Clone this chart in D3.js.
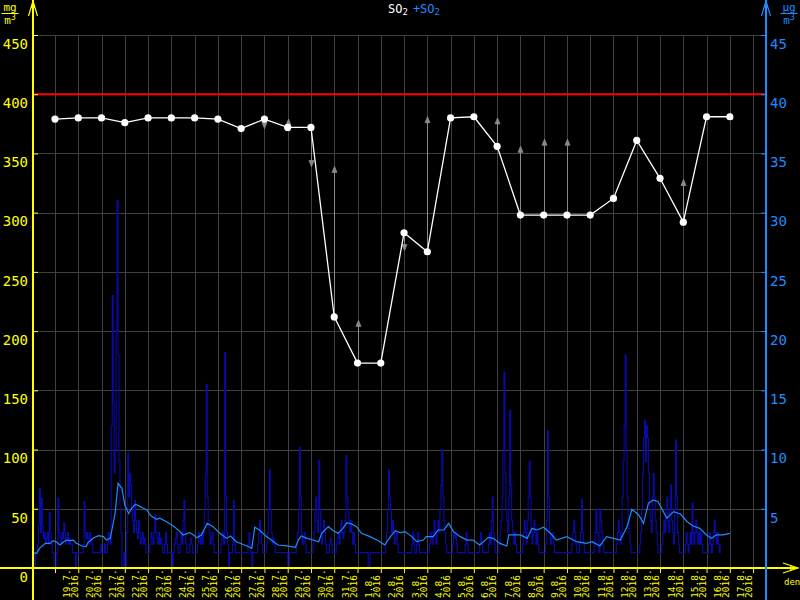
<!DOCTYPE html>
<html><head><meta charset="utf-8">
<script src="https://cdn.jsdelivr.net/npm/d3@7"></script>
<style>body{margin:0;background:#000;overflow:hidden}svg{display:block}</style>
</head><body><svg id="c" width="800" height="600"></svg>
<script>
// ---------- DATA ----------
const dayLabels = ["19.7.","20.7.","21.7.","22.7.","23.7.","24.7.","25.7.","26.7.","27.7.","28.7.","29.7.","30.7.","31.7.","1.8.","2.8.","3.8.","4.8.","5.8.","6.8.","7.8.","8.8.","9.8.","10.8.","11.8.","12.8.","13.8.","14.8.","15.8.","16.8.","17.8."];
const yearLabel = "2016";
const leftTicks = [0,50,100,150,200,250,300,350,400,450];
const rightTicks = [5,10,15,20,25,30,35,40,45];
const limitValue = 400;
// daily values (left axis), one per day label
const dailyValues = [379,380,380,376,380,380,380,379,371,379,372,372,212,173,173,283,267,380,381,356,298,298,298,298,312,361,329,292,381,381];
// gray arrow tips (left axis), null = no arrow
const arrowTips = [null,null,null,null,null,null,null,null,null,371,379,339,339,209,null,268,381,null,null,380,356,362,362,null,null,null,null,328,null,384];
// hourly values (right axis), first value = 18.7. 01:00
const hourlyStartHour = -23;
const hourly = [
1.3,1.3,0,1.3,1.3,2,3.8,6.7,3,5.9,3.5,2.5,3,2,2.5,3,2,4.7,3,2,1.3,1.3,0,0,
0,1.3,5.9,3,2.5,2,3,2.5,3.8,3,2,2.5,3,2,2.5,2,2,1.3,1.3,1.3,0,1.3,1.3,1.3,
1.3,1.3,1.3,1.3,2,5.6,3,2.5,3,2.5,2,3,2.5,2,1.3,1.3,1.3,1.3,1.3,1.3,1.3,1.3,2,1.3,
1.3,1.3,2,1.3,1.3,2,3,2.5,2,12,23,14,8,10,20,31,18,9,5,3,0,0,1.3,0,
0,3,9.7,6,8,7,5,4,3,5.7,4,3,2.5,4,3,2,2.5,3,2,2.5,2,1.3,1.3,1.3,
1.3,2,3,2.5,2,3,4.5,3,2.5,2,3,2,2.5,2,1.3,1.3,2,3,2,1.3,1.3,1.3,1.3,1.3,
0,1.3,2,2.5,3,2,1.3,1.3,2,3,2,4,5.7,3,2,1.3,1.3,1.3,2,2.5,2,1.3,1.3,1.3,
1.3,1.3,2,3,2.5,2,3,2,3,5,8,15.5,6,4,3,2,2.5,3,2,1.3,1.3,1.3,1.3,1.3,
1.3,1.3,2,2.5,3,2,18.2,6,3,2,0,1.3,1.3,1.3,2,5.7,2,1.3,1.3,1.3,1.3,1.3,1.3,1.3,
1.3,1.3,1.3,1.3,1.3,1.3,2,3,2,1.3,0,1.3,1.3,1.3,1.3,1.3,2,3,4,3,2,1.3,1.3,1.3,
1.3,2,3,5,8.3,5,3,2,2.5,2,1.3,1.3,1.3,1.3,1.3,1.3,1.3,1.3,1.3,1.3,1.3,1.3,1.3,0,
0,1.3,1.3,1.3,1.3,1.3,1.3,1.3,2,3,5,10.2,6,3,2,2.5,3,2,1.3,1.3,1.3,1.3,1.3,1.3,
1.3,2,3,5,6,4,3,9.1,5,3,2,3,4,3,2,1.3,1.3,1.3,2,2.5,2,1.3,1.3,1.3,
1.3,2,2.5,3,2,3,4,3,2.5,3,4,9.5,6,5,4,3,4,3,2,3,2,1.3,1.3,1.3,
1.3,1.3,1.3,1.3,1.3,1.3,1.3,1.3,1.3,1.3,0,0,1.3,1.3,1.3,1.3,1.3,1.3,1.3,1.3,1.3,1.3,1.3,1.3,
1.3,1.3,1.3,1.3,2,3,5,8.3,6,5,3,4,3,2,2.5,3,2,1.3,1.3,1.3,1.3,1.3,1.3,1.3,
1.3,1.3,1.3,1.3,1.3,1.3,1.3,2,3,2,1.3,1.3,2,3,2,1.3,1.3,1.3,1.3,1.3,1.3,1.3,1.3,1.3,
1.3,2,3,2.5,2,3,4,3,2,3,4,3,5,7,10,6,4,3,2,1.3,1.3,1.3,1.3,1.3,
1.3,2,3,2.5,3,2,1.3,1.3,1.3,1.3,1.3,1.3,1.3,1.3,2,3,2,1.3,1.3,1.3,1.3,1.3,1.3,1.3,
1.3,1.3,1.3,1.3,1.3,2,3,2,1.3,1.3,1.3,1.3,1.3,1.3,2,3,2,4,6,3,2,1.3,1.3,1.3,
1.3,2,3,4,6,10,16.5,8,5,4,3,6,13.3,7,4,3,2,3,2,1.3,1.3,1.3,1.3,1.3,
1.3,2,3,4,3,2,4,6,9,6,3,2,3,4,3,2,3,2,1.3,1.3,1.3,1.3,1.3,1.3,
1.3,2,4,11.6,6,3,2,2.5,3,2,1.3,1.3,1.3,1.3,1.3,1.3,1.3,1.3,1.3,1.3,1.3,1.3,1.3,1.3,
1.3,1.3,1.3,1.3,2,3,4,3,2,1.3,1.3,1.3,2,3,5.8,3,2,1.3,1.3,1.3,1.3,1.3,1.3,1.3,
1.3,1.3,1.3,2,3,5,3,2,1.3,5,4,3,2,1.3,1.3,1.3,1.3,1.3,1.3,1.3,1.3,1.3,1.3,1.3,
1.3,1.3,2,3,4,3,2,3,6,9,12,18,10,6,4,3,2,1.3,1.3,1.3,1.3,1.3,1.3,1.3,
1.3,1.3,2,3,5,8,11,12.5,9,12,11,8,5,4,3,6,8,6,4,3,2,1.3,1.3,1.3,
1.3,2,3,4,3,5,6,4,3,5,7,4,3,2,5,10.8,6,3,2,1.3,1.3,1.3,1.3,1.3,
1.3,2,3,2,1.3,2,3,2,5.5,3,2,3,4,3,2,3,2,3,2,1.3,1.3,1.3,1.3,1.3,
1.3,2,3,2,1.3,2,3,4,3,2,3,2,1.3,2
];
// moving average (right axis): hour offsets from 19.7. 00:00 and values
const avgHours = [-23,-19,-16,-10,-5,-2,2,5,9,12,16,19,22,28,32,34,40,45,50,53,57,62,65,69,72,76,79,83,88,91,95,98,101,105,108,115,122,129,132,139,143,146,151,157,163,170,177,181,187,198,203,206,211,218,222,230,239,248,251,254,260,266,272,275,282,287,292,297,301,306,311,316,325,334,340,346,351,356,361,368,373,380,383,390,395,401,406,411,418,425,431,438,447,452,459,466,468,473,480,487,492,497,504,511,517,528,538,548,554,562,569,576,583,590,595,602,607,612,617,622,631,638,645,652,658,665,672,677,682,689,696];
const avgValues = [1.29,1.24,1.66,2.08,2.08,2.31,2.17,1.94,2.22,2.36,2.31,2.36,2.08,1.86,1.8,2.14,2.56,2.73,2.65,2.36,2.5,4.6,7.15,6.73,5.32,4.6,5.04,5.38,5.18,5.04,4.9,4.48,4.28,4.11,4.2,3.91,3.55,3.07,2.79,2.98,2.79,2.56,2.79,3.77,3.49,2.93,2.5,2.7,2.22,1.86,1.66,3.44,3.21,2.65,2.42,1.94,1.86,1.75,2.36,2.7,2.5,2.36,2.22,2.93,3.49,3.15,2.93,3.35,3.83,3.72,3.49,2.93,2.65,2.28,1.94,2.65,3.15,2.98,3.07,2.65,2.22,2.36,2.65,2.65,3.21,3.21,3.77,3.07,2.65,2.36,2.36,1.94,2.59,2.5,2.08,1.86,2.79,2.79,2.79,2.5,3.35,3.21,3.44,2.93,2.36,2.65,2.22,2.08,2.22,1.86,2.65,2.5,2.36,3.49,4.96,4.48,3.77,5.46,5.74,5.6,4.2,4.76,4.56,3.91,3.55,3.35,2.79,2.5,2.79,2.79,2.93];

// ---------- DRAW ----------
const YEL = "#ffff00", BLUE = "#1e8cff", DARK = "#0a0aa6", GRID = "#404040", GRAY = "#8a8a8a";
const MONO = "'DejaVu Sans Mono', 'Liberation Mono', monospace";
const svg = d3.select("#c");
svg.append("rect").attr("width",800).attr("height",600).attr("fill","#000");

const axL = 33, axR = 766, baseY = 568, topY = 35;
const x = d3.scaleLinear().domain([0, 30]).range([55, 753.1]);
const yL = d3.scaleLinear().domain([0, 450]).range([baseY, topY]);
const yR = d3.scaleLinear().domain([0, 45]).range([baseY, topY]);

// grid
const grid = svg.append("g").attr("stroke", GRID).attr("stroke-width", 1);
grid.selectAll("line.h").data(leftTicks.filter(d => d > 0)).join("line")
  .attr("x1", axL).attr("x2", axR).attr("y1", d => Math.round(yL(d)) + 0.5).attr("y2", d => Math.round(yL(d)) + 0.5);
grid.selectAll("line.v").data(d3.range(31)).join("line")
  .attr("x1", d => Math.round(x(d)) + 0.5).attr("x2", d => Math.round(x(d)) + 0.5)
  .attr("y1", topY).attr("y2", baseY);

// hourly series
const hourDay = i => (hourlyStartHour + i) / 24;
const hourlyLine = d3.line().x((d, i) => x(hourDay(i))).y(d => yR(d)).curve(d3.curveStepAfter);
svg.append("path").datum(hourly).attr("d", hourlyLine)
  .attr("fill", "none").attr("stroke", DARK).attr("stroke-width", 1.1);

// moving average
const avgLine = d3.line().x((d, i) => x(avgHours[i] / 24)).y(d => yR(d));
svg.append("path").datum(avgValues).attr("d", avgLine)
  .attr("fill", "none").attr("stroke", BLUE).attr("stroke-width", 1.2);

// limit line
svg.append("line").attr("x1", axL).attr("x2", axR)
  .attr("y1", yL(limitValue)).attr("y2", yL(limitValue))
  .attr("stroke", "#ff0000").attr("stroke-width", 2);

// x axis (ticks)
const gx = svg.append("g").attr("transform", `translate(0,${baseY})`)
  .call(d3.axisBottom(x).tickValues(d3.range(31)).tickSize(5).tickFormat(""));
gx.select(".domain").remove();
gx.selectAll("line").attr("stroke", YEL);
svg.append("line").attr("x1", 0).attr("x2", 797).attr("y1", baseY).attr("y2", baseY)
  .attr("stroke", YEL).attr("stroke-width", 2);
svg.append("path").attr("d", "M783,563L798,568L783,573").attr("fill", "none").attr("stroke", YEL).attr("stroke-width", 1.2);
svg.append("path").attr("d", "M790,566L799,568L790,570Z").attr("fill", YEL);
svg.append("text").attr("x", 784).attr("y", 585).attr("fill", YEL).attr("font-family", MONO).attr("font-size", 9).text("den");

// x labels
const lab = svg.append("g").attr("fill", YEL).attr("font-family", MONO).attr("font-size", 9.5);
dayLabels.forEach((t, i) => {
  lab.append("text").attr("transform", `translate(${x(i) + 14.5},598) rotate(-90)`).text(t);
  lab.append("text").attr("transform", `translate(${x(i) + 22.5},598) rotate(-90)`).text(yearLabel);
});

// left axis
const gl = svg.append("g").attr("transform", `translate(${axL},0)`)
  .call(d3.axisLeft(yL).tickValues(leftTicks).tickSize(-5).tickPadding(5));
gl.select(".domain").remove();
gl.selectAll("line").attr("stroke", YEL);
gl.selectAll("text").attr("fill", YEL).attr("font-family", MONO).attr("font-size", 14).attr("dy", "0.95em");
svg.append("line").attr("x1", axL).attr("x2", axL).attr("y1", 0).attr("y2", 600).attr("stroke", YEL).attr("stroke-width", 2);
svg.append("path").attr("d", `M${axL-4.5},16L${axL},1L${axL+4.5},16`).attr("fill", "none").attr("stroke", YEL).attr("stroke-width", 1.2);
svg.append("path").attr("d", `M${axL-2},8L${axL},0L${axL+2},8Z`).attr("fill", YEL);

// right axis
const gr = svg.append("g").attr("transform", `translate(${axR},0)`)
  .call(d3.axisRight(yR).tickValues(rightTicks).tickSize(-5).tickPadding(4));
gr.select(".domain").remove();
gr.selectAll("line").attr("stroke", BLUE);
gr.selectAll("text").attr("fill", BLUE).attr("font-family", MONO).attr("font-size", 14).attr("dy", "0.95em");
svg.append("line").attr("x1", axR).attr("x2", axR).attr("y1", 0).attr("y2", 600).attr("stroke", BLUE).attr("stroke-width", 2);
svg.append("path").attr("d", `M${axR-4.5},16L${axR},1L${axR+4.5},16`).attr("fill", "none").attr("stroke", BLUE).attr("stroke-width", 1.2);
svg.append("path").attr("d", `M${axR-2},8L${axR},0L${axR+2},8Z`).attr("fill", BLUE);

// units
function unit(cx, color, num) {
  const g = svg.append("g").attr("fill", color).attr("font-family", MONO).attr("font-size", 11).attr("text-anchor", "middle");
  g.append("text").attr("x", cx).attr("y", 11).text(num);
  g.append("line").attr("x1", cx - 8.5).attr("x2", cx + 8.5).attr("y1", 13.5).attr("y2", 13.5).attr("stroke", color);
  const t = g.append("text").attr("x", cx).attr("y", 24);
  t.append("tspan").text("m");
  t.append("tspan").attr("dy", -4).attr("font-size", 8).text("3");
}
unit(10, YEL, "mg");
unit(789, BLUE, "µg");

// title
const title = svg.append("text").attr("x", 388).attr("y", 13).attr("font-family", MONO).attr("font-size", 12);
title.append("tspan").attr("fill", "#fff").text("SO");
title.append("tspan").attr("fill", "#fff").attr("dy", 2).attr("font-size", 9).text("2");
title.append("tspan").attr("fill", BLUE).attr("dy", -2).attr("dx", 5).text("+SO");
title.append("tspan").attr("fill", BLUE).attr("dy", 2).attr("font-size", 9).text("2");

// arrows
const arr = svg.append("g").attr("stroke", GRAY).attr("fill", GRAY);
dailyValues.forEach((v, i) => {
  const t = arrowTips[i];
  if (t == null) return;
  const px = Math.round(x(i)) + 0.5, y0 = yL(v), y1 = yL(t);
  const dir = y1 < y0 ? 1 : -1;
  arr.append("line").attr("x1", px).attr("x2", px).attr("y1", y0).attr("y2", y1).attr("stroke-width", 1);
  arr.append("path").attr("d", `M${px-2.5},${y1 + dir*6}L${px},${y1}L${px+2.5},${y1 + dir*6}Z`).attr("stroke-width", 0.8);
});

// daily line + dots
const dLine = d3.line().x((d, i) => x(i)).y(d => yL(d));
svg.append("path").datum(dailyValues).attr("d", dLine).attr("fill", "none").attr("stroke", "#fff").attr("stroke-width", 1.3);
svg.selectAll("circle.d").data(dailyValues).join("circle")
  .attr("cx", (d, i) => x(i)).attr("cy", d => yL(d)).attr("r", 3.6).attr("fill", "#fff");
</script></body></html>
